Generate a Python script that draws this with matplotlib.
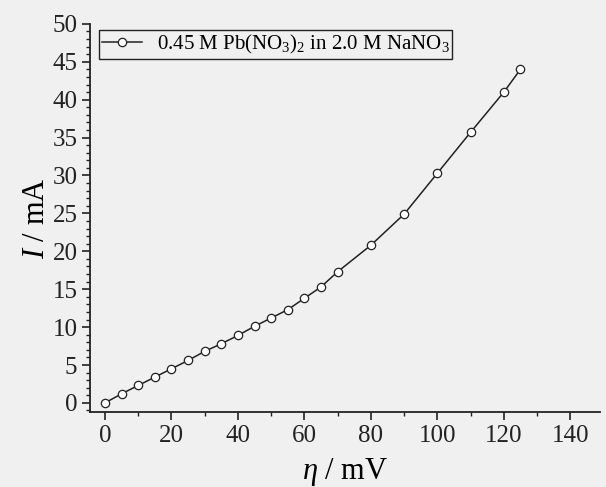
import numpy as np
import matplotlib.pyplot as plt
from matplotlib.ticker import MultipleLocator

# ---------------------- data ----------------------
eta_mv = [0, 5, 10, 15, 20, 25, 30, 35, 40, 45, 50, 55, 60, 65, 70,
          80, 90, 100, 110, 120, 125]
current_ma = [0.0, 1.2, 2.3, 3.4, 4.5, 5.6, 6.8, 7.8, 8.9, 10.1, 11.2, 12.3,
              13.8, 15.3, 17.3, 20.8, 24.9, 30.3, 35.7, 41.0, 44.0]
series_label = "0.45 M Pb(NO$_3$)$_2$ in 2.0 M NaNO$_3$"

BG = "#f0f0f0"

plt.rcParams["font.family"] = ["Liberation Serif", "DejaVu Serif"]
plt.rcParams["mathtext.fontset"] = "custom"
plt.rcParams["mathtext.rm"] = "Liberation Serif"
plt.rcParams["mathtext.it"] = "Liberation Serif:italic"

fig = plt.figure(figsize=(6.06, 4.87), dpi=100, facecolor=BG)
ax = fig.add_axes([0.1485, 0.154, 0.842, 0.797], facecolor=BG)

ax.plot(eta_mv, current_ma, color="#222222", linewidth=1.1,
        marker="o", markersize=6, markerfacecolor="white",
        markeredgecolor="#222222", markeredgewidth=0.9, label=series_label)

ax.set_xlim(-4.5, 149)
ax.set_ylim(-1.2, 50)
ax.xaxis.set_major_locator(MultipleLocator(20))
ax.xaxis.set_minor_locator(MultipleLocator(10))
ax.yaxis.set_major_locator(MultipleLocator(5))
ax.yaxis.set_minor_locator(MultipleLocator(1))

for side in ["top", "right"]:
    ax.spines[side].set_visible(False)
for side in ["left", "bottom"]:
    ax.spines[side].set_linewidth(1.3)
    ax.spines[side].set_color("#222222")

ax.tick_params(which="major", direction="out", length=6, width=1.2,
               labelsize=18, colors="#222222", pad=3)
ax.tick_params(which="minor", direction="out", length=3, width=1.0,
               colors="#222222")

ax.set_xlabel("$\\eta$ / mV", fontsize=22, labelpad=7)
ax.set_ylabel("$I$ / mA", fontsize=22, labelpad=1)

leg = ax.legend(loc="upper left", bbox_to_anchor=(0.01, 0.995), fontsize=15,
                frameon=True, fancybox=False, borderpad=0.15,
                handlelength=1.9, handletextpad=0.7, borderaxespad=0.2)
leg.get_frame().set_edgecolor("#222222")
leg.get_frame().set_linewidth(1.0)
leg.get_frame().set_facecolor(BG)
leg.get_frame().set_alpha(1)

fig.savefig("out.png", dpi=100, facecolor=BG)
